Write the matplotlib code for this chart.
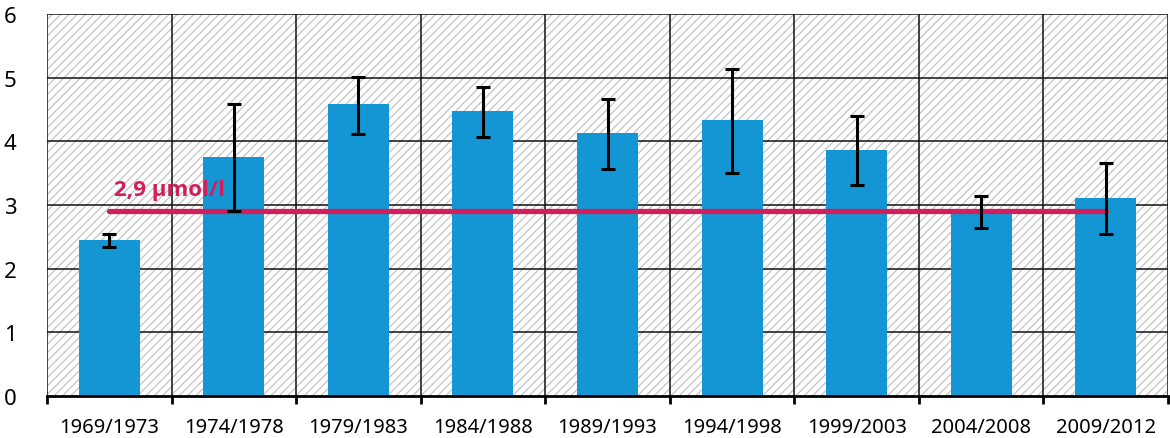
import matplotlib
matplotlib.use("Agg")
import matplotlib.pyplot as plt
from matplotlib.patches import Rectangle
import numpy as np

categories = ["1969/1973", "1974/1978", "1979/1983", "1984/1988", "1989/1993",
              "1994/1998", "1999/2003", "2004/2008", "2009/2012"]
values = [2.45, 3.75, 4.58, 4.48, 4.13, 4.33, 3.86, 2.88, 3.11]
err_low = [2.34, 2.91, 4.11, 4.07, 3.57, 3.50, 3.31, 2.64, 2.54]
err_high = [2.54, 4.59, 5.01, 4.85, 4.66, 5.14, 4.40, 3.14, 3.66]
reference_value = 2.9
reference_label = "2,9 µmol/l"
y_ticks = [0, 1, 2, 3, 4, 5, 6]

plt.rcParams['font.family'] = ['Noto Sans', 'DejaVu Sans']
plt.rcParams['hatch.color'] = '#c4c4c4'
plt.rcParams['hatch.linewidth'] = 0.9

fig = plt.figure(figsize=(11.7, 4.39), dpi=100)
ax = fig.add_axes([47/1170, 42/439, (1168-47)/1170, (397-15)/439])

x = np.arange(len(categories))
vals = np.array(values)
lo = vals - np.array(err_low)
hi = np.array(err_high) - vals

bg = Rectangle((0, 0), 1, 1, transform=ax.transAxes, facecolor='white',
               edgecolor='#c4c4c4', hatch='////', lw=0, zorder=0)
ax.add_patch(bg)

ax.bar(x, vals, width=0.49, color='#1396D3', zorder=3)
ax.plot([x[0], x[-1]], [reference_value, reference_value], color='#D01F5C',
        lw=3.8, solid_capstyle='round', zorder=4)
ax.errorbar(x, vals, yerr=[lo, hi], fmt='none', ecolor='black', elinewidth=2.2,
            capsize=5, capthick=2.2, zorder=5)
ax.text(x[0] + 0.04, reference_value + 0.26, reference_label, color='#D01F5C',
        fontsize=16, fontweight='bold', family=['Open Sans', 'DejaVu Sans'],
        ha='left', va='baseline', zorder=6)

ax.set_xlim(-0.5, len(categories) - 0.5)
ax.set_ylim(0, 6)
ax.set_yticks(y_ticks)
ax.set_yticklabels([str(t) for t in y_ticks], fontsize=16)
ax.set_xticks(x)
ax.set_xticklabels(categories, fontsize=14.5)
ax.set_xticks(np.arange(-0.5, len(categories)), minor=True)
ax.tick_params(axis='x', which='major', length=0, pad=15)
ax.tick_params(axis='x', which='minor', length=6, width=2, direction='out')
ax.tick_params(axis='y', length=0, pad=22)

for yv in y_ticks[1:]:
    ax.axhline(yv, color='#111111', lw=1.1, zorder=1)
for xv in np.arange(-0.5, len(categories)):
    ax.axvline(xv, color='#111111', lw=1.1, zorder=1)

for s in ['top', 'left', 'right']:
    ax.spines[s].set_visible(False)
ax.spines['bottom'].set_linewidth(2)
ax.spines['bottom'].set_zorder(6)

fig.savefig("out.png", dpi=100)
